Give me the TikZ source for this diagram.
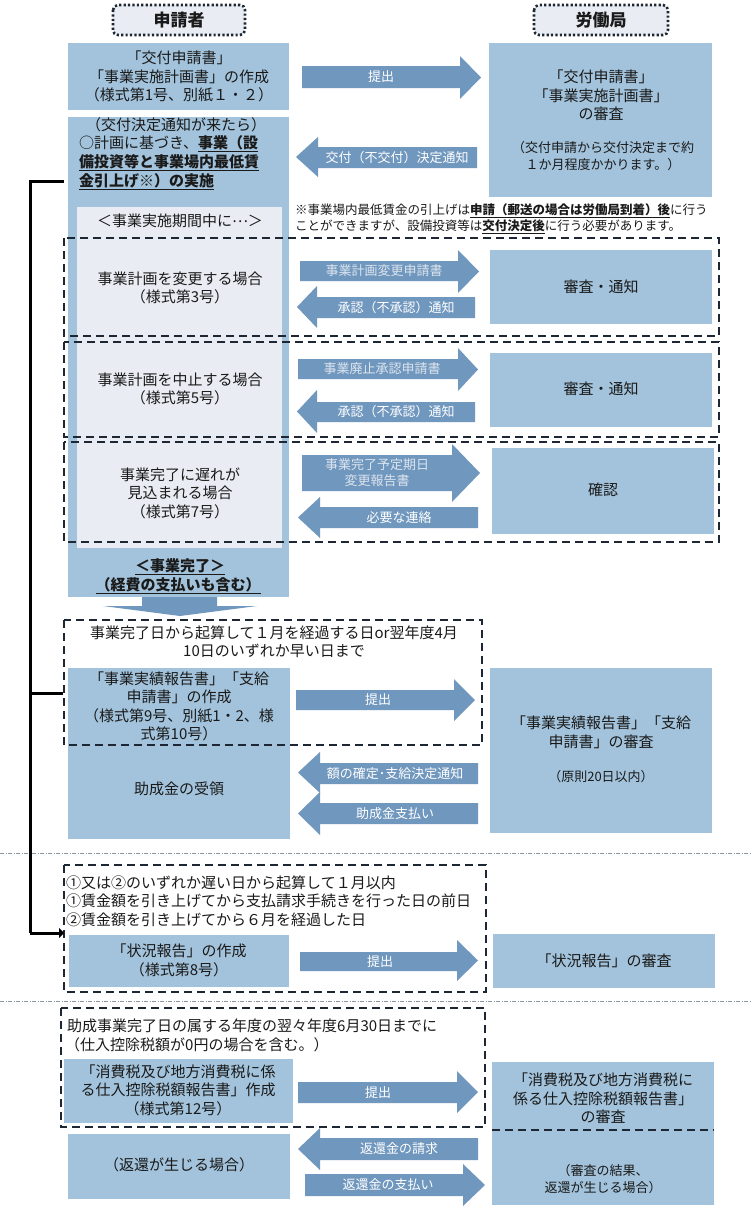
\documentclass[tikz,border=0pt]{standalone}
\usepackage{fontspec}
\setmainfont{Noto Sans CJK JP}
\usetikzlibrary{arrows.meta}
\definecolor{boxblue}{HTML}{A2C3DB}
\definecolor{arrowblue}{HTML}{7097BE}
\definecolor{paleblue}{HTML}{E9EDF3}
\definecolor{dashdark}{HTML}{1C2733}
\definecolor{txt}{HTML}{1A1A1A}
\definecolor{lighttxt}{HTML}{DCE4EE}
\definecolor{sepgray}{HTML}{8A96A3}
\newcommand{\blockR}[7]{\fill[arrowblue] (#1,#4) -- (#2,#4) -- (#2,#6) -- (#3,{(#6+#7)/2}) -- (#2,#7) -- (#2,#5) -- (#1,#5) -- cycle;}
\newcommand{\blockL}[7]{\fill[arrowblue] (#3,#4) -- (#2,#4) -- (#2,#6) -- (#1,{(#6+#7)/2}) -- (#2,#7) -- (#2,#5) -- (#3,#5) -- cycle;}
\tikzset{
 bluebox/.style={fill=boxblue},
 main/.style={font=\fontsize{15}{18.5}\selectfont, text=txt, align=center, inner sep=0pt},
 small/.style={font=\fontsize{13}{17}\selectfont, text=txt, align=center, inner sep=0pt},
 note/.style={font=\fontsize{12.5}{16}\selectfont, text=txt, inner sep=0pt, anchor=west},
 alabel/.style={font=\fontsize{13}{16}\selectfont, text=white, align=center, inner sep=0pt},
 alabelL/.style={alabel, text=lighttxt},
 dashbox/.style={draw=dashdark, line width=2.1pt, dash pattern=on 8pt off 5pt},
 header/.style={draw=dashdark, fill=paleblue, line width=2.6pt, dash pattern=on 2.2pt off 2.2pt, rounded corners=5pt},
 headtext/.style={font=\fontsize{17}{20}\selectfont\bfseries, text=txt, inner sep=0pt},
 sep/.style={draw=sepgray, line width=0.7pt, dash pattern=on 4pt off 1.5pt on 1pt off 1.5pt},
 flowline/.style={draw=black, line width=3pt},
}
\begin{document}
\begin{tikzpicture}[x=1pt,y=-1pt]
\useasboundingbox (0,0) rectangle (750,1229);
\fill[white] (0,0) rectangle (750,1229);

% headers
\draw[header] (113,5) rectangle (245,35);
\node[headtext] (hL) at (179,20) {申請者};
\draw[header] (534,5) rectangle (668,35);
\node[headtext] (hR) at (601,20) {労働局};

% left boxes
\fill[bluebox] (68,43) rectangle (289,110);
\fill[bluebox] (68,117) rectangle (289,597);
\fill[paleblue] (77,207) rectangle (282,548);
\fill[bluebox] (68,668) rectangle (290,839);
\fill[bluebox] (69,935) rectangle (289,987);
\fill[bluebox] (64,1059) rectangle (293,1123);
\fill[bluebox] (68,1134) rectangle (290,1199);
% down arrow
\fill[arrowblue] (142,597) -- (217,597) -- (217,606) -- (257,606) -- (180,616) -- (103,606) -- (142,606) -- cycle;

% right boxes
\fill[bluebox] (489,43) rectangle (712,197);
\fill[bluebox] (490,250) rectangle (712,324);
\fill[bluebox] (490,353) rectangle (712,427);
\fill[bluebox] (492,448) rectangle (714,534);
\fill[bluebox] (490,668) rectangle (712,833);
\fill[bluebox] (493,934) rectangle (715,988);
\fill[bluebox] (492,1062) rectangle (714,1205);
\draw[draw=dashdark, line width=1.7pt, dash pattern=on 8pt off 5pt] (492,1130) -- (714,1130);

% block arrows
\blockR{302}{460}{481}{66}{88}{56}{99}
\blockL{296}{318}{477}{147}{168}{137}{177}
\blockR{300}{458}{479}{261}{281}{250}{293}
\blockL{297}{317}{475}{297}{318}{286}{328}
\blockR{298}{458}{478}{359}{379}{348}{391}
\blockL{297}{317}{475}{402}{422}{390}{433}
\blockR{302}{452}{480}{455}{491}{444}{502}
\blockL{298}{320}{478}{507}{528}{497}{538}
\blockR{296}{454}{475}{690}{710}{679}{721}
\blockL{298}{320}{478}{763}{784}{752}{793}
\blockL{298}{320}{478}{803}{824}{792}{835}
\blockR{300}{457}{478}{952}{971}{940}{981}
\blockR{298}{457}{478}{1082}{1103}{1071}{1113}
\blockL{298}{320}{478}{1138}{1160}{1128}{1170}
\blockR{305}{463}{485}{1174}{1196}{1164}{1206}

% arrow labels
\node[alabel] (a1) at (381,77) {提出};
\node[alabel] (a2) at (397,157.5) {交付（不交付）決定通知};
\node[alabelL] (a3) at (384,271) {事業計画変更申請書};
\node[alabel] (a4) at (396,307.5) {承認（不承認）通知};
\node[alabelL] (a5) at (382,369) {事業廃止承認申請書};
\node[alabel] (a6) at (396,412) {承認（不承認）通知};
\node[alabelL] (a7) at (377,473) {事業完了予定期日\\変更報告書};
\node[alabel] (a8) at (399,517.5) {必要な連絡};
\node[alabel] (a9) at (378,700) {提出};
\node[alabel] (a10) at (395,773.5) {額の確定･支給決定通知};
\node[alabel] (a11) at (395,813.5) {助成金支払い};
\node[alabel] (a12) at (380,961.5) {提出};
\node[alabel] (a13) at (378,1092.5) {提出};
\node[alabel] (a14) at (399,1149) {返還金の請求};
\node[alabel] (a15) at (388,1185) {返還金の支払い};

% dashed section boxes
\draw[dashbox] (64,238) rectangle (719,336);
\draw[dashbox] (64,342) rectangle (719,437);
\draw[dashbox] (64,442) rectangle (719,542);
\draw[dashbox] (64,620) rectangle (482,745);
\draw[dashbox] (64,865) rectangle (486,992);
\draw[dashbox] (61,1008) rectangle (485,1127);

% separators
\draw[sep] (0,853) -- (750,853);
\draw[sep] (0,1001) -- (750,1001);

% left texts
\node[main] (t1) at (179,76.5) {「交付申請書」\\「事業実施計画書」の作成\\（様式第1号、別紙１・２）};
\node[main] (t2a) at (176,125) {（交付決定通知が来たら）};
\node[main, anchor=west] (t2b) at (79,144) {○計画に基づき、\underline{\textbf{事業（設}}};
\node[main, anchor=west] (t2c) at (79,163) {\underline{\textbf{備投資等と事業場内最低賃}}};
\node[main, anchor=west] (t2d) at (79,182) {\underline{\textbf{金引上げ※）の実施}}};
\node[main] (t3) at (180,221) {＜事業実施期間中に\raisebox{0.3em}{…}＞};
\node[main] (t4) at (180,288) {事業計画を変更する場合\\（様式第3号）};
\node[main] (t5) at (180,389) {事業計画を中止する場合\\（様式第5号）};
\node[main] (t6) at (180,493) {事業完了に遅れが\\見込まれる場合\\（様式第7号）};
\node[main] (t7a) at (180,567) {\underline{\textbf{＜事業完了＞}}};
\node[main] (t7b) at (178,586) {\underline{\textbf{（経費の支払いも含む）}}};
\node[main] (t8) at (274,642) {事業完了日から起算して１月を経過する日or翌年度4月\\10日のいずれか早い日まで};
\node[main] (t9) at (179,706.5) {「事業実績報告書」「支給\\申請書」の作成\\（様式第9号、別紙1・2、様\\式第10号）};
\node[main] (t10) at (179,789) {助成金の受領};
\node[main, anchor=west] (t11a) at (66,883) {①又は②のいずれか遅い日から起算して１月以内};
\node[main, anchor=west] (t11b) at (66,901) {①賃金額を引き上げてから支払請求手続きを行った日の前日};
\node[main, anchor=west] (t11c) at (66,920) {②賃金額を引き上げてから６月を経過した日};
\node[main] (t12) at (179,960.5) {「状況報告」の作成\\（様式第8号）};
\node[main, anchor=west] (t13a) at (67,1026) {助成事業完了日の属する年度の翌々年度6月30日までに};
\node[main, anchor=west] (t13b) at (65,1045) {（仕入控除税額が0円の場合を含む。）};
\node[main] (t14) at (178,1090) {「消費税及び地方消費税に係\\る仕入控除税額報告書」作成\\（様式第12号）};
\node[main] (t15) at (179,1165) {（返還が生じる場合）};

% note
\node[note] (n1) at (295,211) {※事業場内最低賃金の引上げは\underline{\textbf{申請（郵送の場合は労働局到着）後}}に行う};
\node[note] (n2) at (295,227) {ことができますが、設備投資等は\underline{\textbf{交付決定後}}に行う必要があります。};

% right texts
\node[main] (r1a) at (601,95.5) {「交付申請書」\\「事業実施計画書」\\の審査};
\node[small] (r1b) at (603,156) {（交付申請から交付決定まで約\\１か月程度かかります。）};
\node[main] (r2) at (601,287) {審査・通知};
\node[main] (r3) at (601,389) {審査・通知};
\node[main] (r4) at (603,490) {確認};
\node[main] (r5a) at (601,732.5) {「事業実績報告書」「支給\\申請書」の審査};
\node[small] (r5b) at (601,777) {（原則20日以内）};
\node[main] (r6) at (604,961) {「状況報告」の審査};
\node[main] (r7a) at (603,1098.5) {「消費税及び地方消費税に\\係る仕入控除税額報告書」\\の審査};
\node[small] (r7b) at (603,1179) {（審査の結果、\\返還が生じる場合）};

% flow line
\coordinate (fTop) at (64,181);
\coordinate (fTopC) at (30,181);
\coordinate (fMid) at (63,693);
\coordinate (fMidC) at (30,693);
\coordinate (fEnd) at (64,933);
\coordinate (fEndC) at (30,933);
\draw[flowline] (fTop) -- (fTopC) -- (fEndC);
\draw[flowline] (fMidC) -- (fMid);
\draw[flowline, -{Triangle[length=5pt,width=10pt]}] (fEndC) -- (fEnd);
\end{tikzpicture}
\end{document}
